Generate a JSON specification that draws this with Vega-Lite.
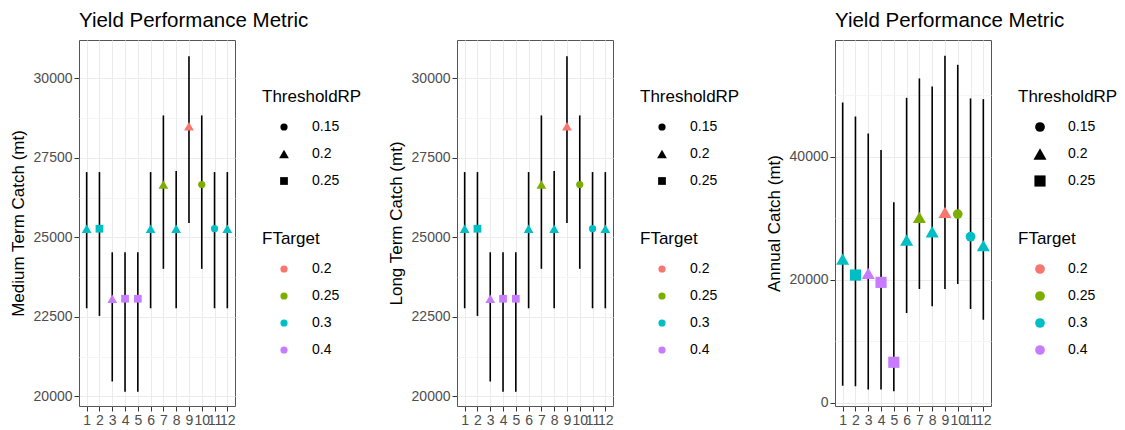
{
  "$schema": "https://vega.github.io/schema/vega-lite/v6.json",
  "background": "white",
  "padding": {"left": 8, "top": 10, "right": 5, "bottom": 2},
  "spacing": 23,
  "data": {"values": [
    {"scenario": 1, "FTarget": "0.3", "ThresholdRP": "0.2", "mt": 25270, "mt_lo": 22770, "mt_hi": 27050, "lt": 25270, "lt_lo": 22770, "lt_hi": 27050, "an": 23380, "an_lo": 2800, "an_hi": 48800},
    {"scenario": 2, "FTarget": "0.3", "ThresholdRP": "0.25", "mt": 25270, "mt_lo": 22530, "mt_hi": 27050, "lt": 25270, "lt_lo": 22530, "lt_hi": 27050, "an": 20780, "an_lo": 2700, "an_hi": 46540},
    {"scenario": 3, "FTarget": "0.4", "ThresholdRP": "0.2", "mt": 23070, "mt_lo": 20470, "mt_hi": 24530, "lt": 23070, "lt_lo": 20470, "lt_hi": 24530, "an": 21060, "an_lo": 2170, "an_hi": 43780},
    {"scenario": 4, "FTarget": "0.4", "ThresholdRP": "0.25", "mt": 23070, "mt_lo": 20150, "mt_hi": 24530, "lt": 23070, "lt_lo": 20150, "lt_hi": 24530, "an": 19590, "an_lo": 2170, "an_hi": 41070},
    {"scenario": 5, "FTarget": "0.4", "ThresholdRP": "0.25", "mt": 23070, "mt_lo": 20150, "mt_hi": 24530, "lt": 23070, "lt_lo": 20150, "lt_hi": 24530, "an": 6610, "an_lo": 1900, "an_hi": 32580},
    {"scenario": 6, "FTarget": "0.3", "ThresholdRP": "0.2", "mt": 25270, "mt_lo": 22770, "mt_hi": 27050, "lt": 25270, "lt_lo": 22770, "lt_hi": 27050, "an": 26460, "an_lo": 14610, "an_hi": 49560},
    {"scenario": 7, "FTarget": "0.25", "ThresholdRP": "0.2", "mt": 26660, "mt_lo": 24010, "mt_hi": 28830, "lt": 26660, "lt_lo": 24010, "lt_hi": 28830, "an": 30150, "an_lo": 18510, "an_hi": 52710},
    {"scenario": 8, "FTarget": "0.3", "ThresholdRP": "0.2", "mt": 25270, "mt_lo": 22770, "mt_hi": 27080, "lt": 25270, "lt_lo": 22770, "lt_hi": 27080, "an": 27810, "an_lo": 15700, "an_hi": 51410},
    {"scenario": 9, "FTarget": "0.2", "ThresholdRP": "0.2", "mt": 28490, "mt_lo": 25450, "mt_hi": 30690, "lt": 28490, "lt_lo": 25450, "lt_hi": 30690, "an": 30960, "an_lo": 18510, "an_hi": 56380},
    {"scenario": 10, "FTarget": "0.25", "ThresholdRP": "0.15", "mt": 26660, "mt_lo": 24010, "mt_hi": 28830, "lt": 26660, "lt_lo": 24010, "lt_hi": 28830, "an": 30680, "an_lo": 19320, "an_hi": 54920},
    {"scenario": 11, "FTarget": "0.3", "ThresholdRP": "0.15", "mt": 25270, "mt_lo": 22770, "mt_hi": 27050, "lt": 25270, "lt_lo": 22770, "lt_hi": 27050, "an": 27000, "an_lo": 15260, "an_hi": 49460},
    {"scenario": 12, "FTarget": "0.3", "ThresholdRP": "0.2", "mt": 25270, "mt_lo": 22770, "mt_hi": 27050, "lt": 25270, "lt_lo": 22770, "lt_hi": 27050, "an": 25540, "an_lo": 13520, "an_hi": 49350}
  ]},
  "hconcat": [
    {
      "width": 156, "height": 366,
      "title": {"text": "Yield Performance Metric"},
      "encoding": {
        "x": {"field": "scenario", "type": "ordinal", "scale": {"type": "point", "padding": 0.6}, "axis": {"title": null, "labelAngle": 0, "labelOverlap": false, "grid": true}}
      },
      "layer": [
        {
          "mark": {"type": "rule", "opacity": 0},
          "encoding": {
            "y": {"field": "mt", "type": "quantitative", "scale": {"domain": [19700, 31200], "nice": false, "zero": false}, "axis": {"values": [21250, 23750, 26250, 28750], "grid": true, "gridColor": "#F3F3F3", "gridWidth": 0.8, "labels": false, "ticks": false, "domain": false, "title": null, "orient": "right"}}
          }
        },
        {
          "mark": {"type": "rule", "color": "black", "strokeWidth": 1.6},
          "encoding": {
            "y": {"field": "mt_lo", "type": "quantitative", "axis": {"values": [20000, 22500, 25000, 27500, 30000], "format": "d", "grid": true, "title": "Medium Term Catch (mt)", "orient": "left"}},
            "y2": {"field": "mt_hi"}
          }
        },
        {
          "mark": {"type": "point", "filled": true, "opacity": 1},
          "encoding": {
            "y": {"field": "mt", "type": "quantitative", "axis": null},
            "shape": {"field": "ThresholdRP", "type": "nominal", "scale": {"domain": ["0.15", "0.2", "0.25"], "range": ["circle", "triangle-up", "square"]}, "legend": {"orient": "none", "legendX": 183, "legendY": 49, "symbolFillColor": "black", "symbolStrokeWidth": 0}},
            "size": {"field": "ThresholdRP", "type": "nominal", "scale": {"type": "ordinal", "domain": ["0.15", "0.2", "0.25"], "range": [52, 95, 60]}, "legend": {"orient": "none", "legendX": 183, "legendY": 49, "symbolFillColor": "black", "symbolStrokeWidth": 0}},
            "color": {"field": "FTarget", "type": "nominal", "scale": {"domain": ["0.2", "0.25", "0.3", "0.4"], "range": ["#F8766D", "#7CAE00", "#00BFC4", "#C77CFF"]}, "legend": {"orient": "none", "legendX": 183, "legendY": 191, "symbolType": "circle", "symbolSize": 52}}
          }
        }
      ],
      "resolve": {"axis": {"y": "independent"}}
    },
    {
      "width": 156, "height": 366,
      "encoding": {
        "x": {"field": "scenario", "type": "ordinal", "scale": {"type": "point", "padding": 0.6}, "axis": {"title": null, "labelAngle": 0, "labelOverlap": false, "grid": true}}
      },
      "layer": [
        {
          "mark": {"type": "rule", "opacity": 0},
          "encoding": {
            "y": {"field": "lt", "type": "quantitative", "scale": {"domain": [19700, 31200], "nice": false, "zero": false}, "axis": {"values": [21250, 23750, 26250, 28750], "grid": true, "gridColor": "#F3F3F3", "gridWidth": 0.8, "labels": false, "ticks": false, "domain": false, "title": null, "orient": "right"}}
          }
        },
        {
          "mark": {"type": "rule", "color": "black", "strokeWidth": 1.6},
          "encoding": {
            "y": {"field": "lt_lo", "type": "quantitative", "axis": {"values": [20000, 22500, 25000, 27500, 30000], "format": "d", "grid": true, "title": "Long Term Catch (mt)", "orient": "left"}},
            "y2": {"field": "lt_hi"}
          }
        },
        {
          "mark": {"type": "point", "filled": true, "opacity": 1},
          "encoding": {
            "y": {"field": "lt", "type": "quantitative", "axis": null},
            "shape": {"field": "ThresholdRP", "type": "nominal", "scale": {"domain": ["0.15", "0.2", "0.25"], "range": ["circle", "triangle-up", "square"]}, "legend": {"orient": "none", "legendX": 183, "legendY": 49, "symbolFillColor": "black", "symbolStrokeWidth": 0}},
            "size": {"field": "ThresholdRP", "type": "nominal", "scale": {"type": "ordinal", "domain": ["0.15", "0.2", "0.25"], "range": [52, 95, 60]}, "legend": {"orient": "none", "legendX": 183, "legendY": 49, "symbolFillColor": "black", "symbolStrokeWidth": 0}},
            "color": {"field": "FTarget", "type": "nominal", "scale": {"domain": ["0.2", "0.25", "0.3", "0.4"], "range": ["#F8766D", "#7CAE00", "#00BFC4", "#C77CFF"]}, "legend": {"orient": "none", "legendX": 183, "legendY": 191, "symbolType": "circle", "symbolSize": 52}}
          }
        }
      ],
      "resolve": {"axis": {"y": "independent"}}
    },
    {
      "width": 156, "height": 366,
      "title": {"text": "Yield Performance Metric"},
      "encoding": {
        "x": {"field": "scenario", "type": "ordinal", "scale": {"type": "point", "padding": 0.6}, "axis": {"title": null, "labelAngle": 0, "labelOverlap": false, "grid": true}}
      },
      "layer": [
        {
          "mark": {"type": "rule", "opacity": 0},
          "encoding": {
            "y": {"field": "an", "type": "quantitative", "scale": {"domain": [-490, 58950], "nice": false, "zero": false}, "axis": {"values": [10000, 30000, 50000], "grid": true, "gridColor": "#F3F3F3", "gridWidth": 0.8, "labels": false, "ticks": false, "domain": false, "title": null, "orient": "right"}}
          }
        },
        {
          "mark": {"type": "rule", "color": "black", "strokeWidth": 1.6},
          "encoding": {
            "y": {"field": "an_lo", "type": "quantitative", "axis": {"values": [0, 20000, 40000], "format": "d", "grid": true, "title": "Annual Catch (mt)", "orient": "left"}},
            "y2": {"field": "an_hi"}
          }
        },
        {
          "mark": {"type": "point", "filled": true, "opacity": 1},
          "encoding": {
            "y": {"field": "an", "type": "quantitative", "axis": null},
            "shape": {"field": "ThresholdRP", "type": "nominal", "scale": {"domain": ["0.15", "0.2", "0.25"], "range": ["circle", "triangle-up", "square"]}, "legend": {"orient": "none", "legendX": 183, "legendY": 49, "symbolFillColor": "black", "symbolStrokeWidth": 0}},
            "size": {"field": "ThresholdRP", "type": "nominal", "scale": {"type": "ordinal", "domain": ["0.15", "0.2", "0.25"], "range": [95, 170, 125]}, "legend": {"orient": "none", "legendX": 183, "legendY": 49, "symbolFillColor": "black", "symbolStrokeWidth": 0}},
            "color": {"field": "FTarget", "type": "nominal", "scale": {"domain": ["0.2", "0.25", "0.3", "0.4"], "range": ["#F8766D", "#7CAE00", "#00BFC4", "#C77CFF"]}, "legend": {"orient": "none", "legendX": 183, "legendY": 191, "symbolType": "circle", "symbolSize": 95}}
          }
        }
      ],
      "resolve": {"axis": {"y": "independent"}}
    }
  ],
  "resolve": {
    "scale": {"x": "independent", "y": "independent", "color": "independent", "shape": "independent", "size": "independent"},
    "legend": {"color": "independent", "shape": "independent", "size": "independent"}
  },
  "config": {
    "font": "Liberation Sans",
    "view": {"stroke": "#555555", "strokeWidth": 1},
    "axis": {
      "labelFont": "Liberation Sans", "labelFontSize": 14, "labelColor": "#4D4D4D", "labelPadding": 2,
      "tickColor": "#333333", "tickSize": 5, "tickWidth": 1,
      "domain": false,
      "gridColor": "#EBEBEB", "gridWidth": 1,
      "titleFont": "Liberation Sans", "titleFontSize": 17, "titleFontWeight": "normal", "titleColor": "black", "titlePadding": 6
    },
    "legend": {
      "padding": 0,
      "titleFont": "Liberation Sans", "titleFontSize": 17, "titleFontWeight": "normal", "titleColor": "black", "titlePadding": 14,
      "labelFont": "Liberation Sans", "labelFontSize": 14, "labelColor": "black", "labelOffset": 21,
      "symbolOffset": 15, "rowPadding": 13
    },
    "title": {"font": "Liberation Sans", "fontSize": 20.5, "fontWeight": "normal", "color": "black", "anchor": "start", "frame": "group", "offset": 9}
  }
}
